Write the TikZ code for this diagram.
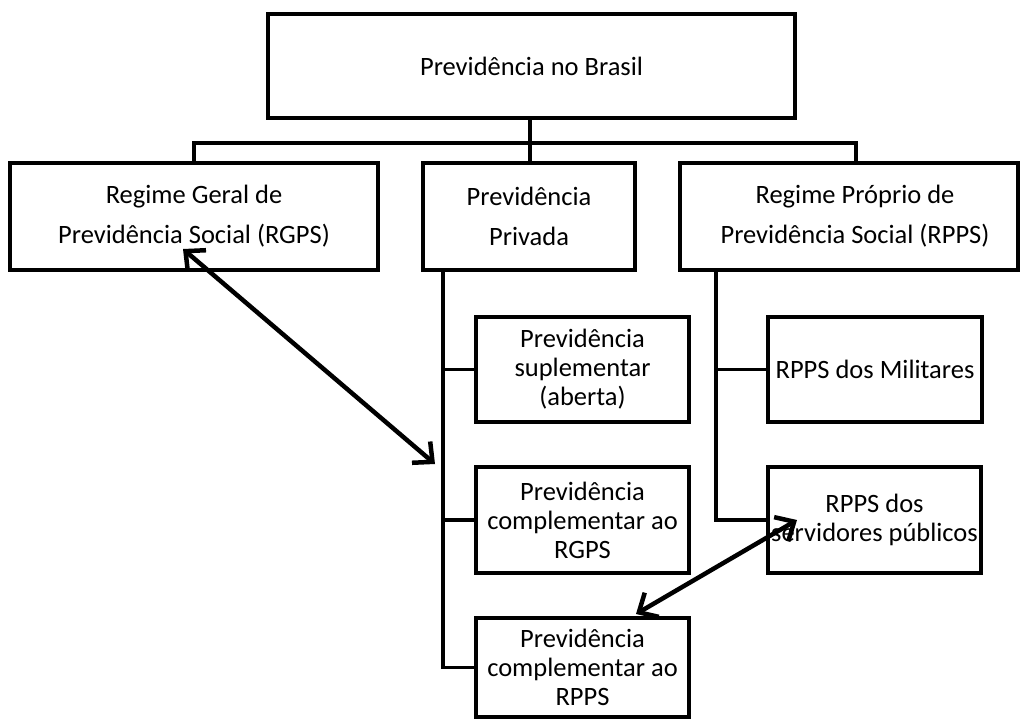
\documentclass[tikz,border=0pt]{standalone}
\usepackage{fontspec}
\setmainfont{Carlito}
\usetikzlibrary{arrows.meta,calc}
\tikzset{
  box/.style={draw, line width=3.5pt, rectangle, inner sep=0pt, align=center, font=\fontsize{26.5}{29}\selectfont},
  wide/.style={font=\fontsize{26.5}{40}\selectfont},
  conn/.style={line width=3.5pt},
  dbl/.style={line width=4.5pt, {Straight Barb[length=15pt,width=28pt]}-{Straight Barb[length=15pt,width=28pt]}}
}
\begin{document}
\begin{tikzpicture}[x=1pt,y=-1pt]
\useasboundingbox (0,0) rectangle (1022,720);
\node[box, minimum width=527, minimum height=104] (top) at (531.5,66) {Previdência no Brasil};
\node[box, wide, minimum width=368, minimum height=107] (rgps) at (194,216.5) {Regime Geral de\\Previdência Social (RGPS)};
\node[box, wide, minimum width=212, minimum height=107] (priv) at (529,216.5) {Previdência\\Privada};
\node[box, wide, minimum width=338, minimum height=107] (rpps) at (849,216.5) {\hspace*{12pt}Regime Próprio de\\\hspace*{12pt}Previdência Social (RPPS)};
\node[box, minimum width=213, minimum height=105] (s1) at (582.5,369.5) {Previdência\\suplementar\\(aberta)};
\node[box, minimum width=213, minimum height=106] (s2) at (582.5,520) {Previdência\\complementar ao\\RGPS};
\node[box, minimum width=213, minimum height=99] (s3) at (582.5,667.5) {Previdência\\complementar ao\\RPPS};
\node[box, minimum width=214, minimum height=105] (mil) at (875,369.5) {RPPS dos Militares};
\node[box, minimum width=213, minimum height=106] (sv) at (874.5,520) {RPPS dos\\servidores públicos};
\coordinate (bar) at (530,143);
\draw[conn] (top.south -| bar) -- (bar);
\draw[conn] (rgps.north) |- (bar) -| ([xshift=7pt]rpps.north);
\draw[conn] (bar) -- (bar |- priv.north);
\coordinate (pt) at (443,270);
\draw[conn] (pt) |- (s3.west);
\draw[conn] (s1.west) -- (s1.west -| pt);
\draw[conn] (s2.west) -- (s2.west -| pt);
\coordinate (rt) at (716,270);
\draw[conn] (rt) |- (sv.west);
\draw[conn] (mil.west) -- (mil.west -| rt);
\coordinate (a1s) at (183,249);
\coordinate (a1e) at (435,464);
\coordinate (a2s) at (797,520);
\coordinate (a2e) at (636,614);
\draw[dbl] (a1s) -- (a1e);
\draw[dbl] (a2s) -- (a2e);
\end{tikzpicture}
\end{document}
